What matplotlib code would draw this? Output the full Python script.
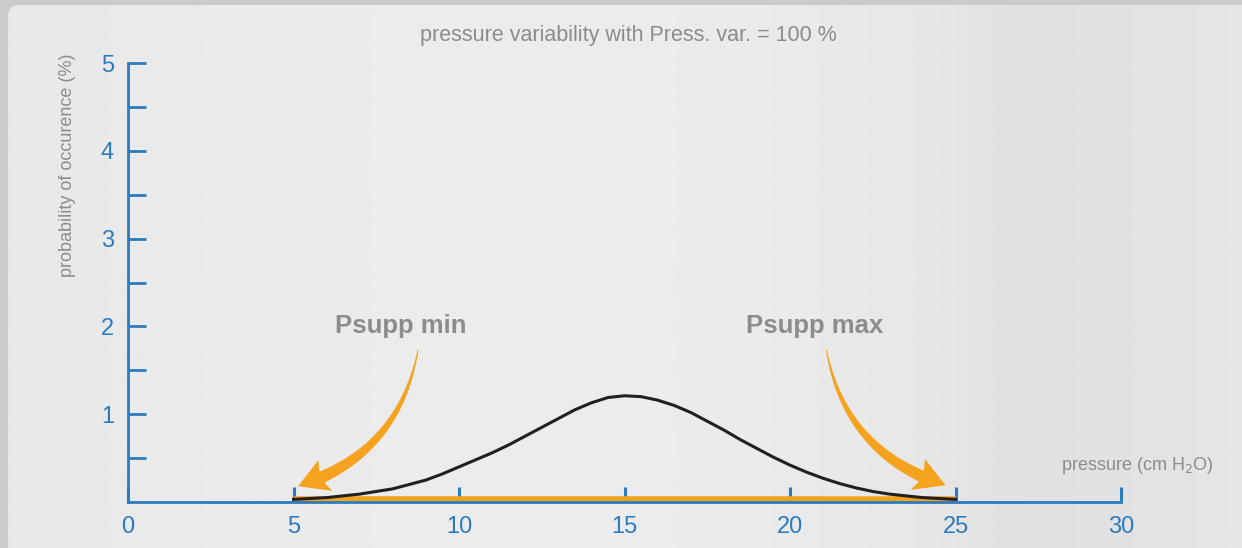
import matplotlib
matplotlib.use("Agg")
import matplotlib.pyplot as plt
import numpy as np
from matplotlib.patches import FancyBboxPatch, Polygon
from matplotlib.transforms import IdentityTransform

plt.rcParams['font.family'] = ['Liberation Sans', 'DejaVu Sans']

# curve
pressure = [5, 5.5, 6, 6.5, 7, 7.5, 8, 8.5, 9, 9.5, 10, 10.5, 11, 11.5, 12, 12.5,
            13, 13.5, 14, 14.5, 15, 15.5, 16, 16.5, 17, 17.5, 18, 18.5, 19, 19.5,
            20, 20.5, 21, 21.5, 22, 22.5, 23, 23.5, 24, 24.5, 25]
probability = [0.03, 0.04, 0.05, 0.07, 0.09, 0.12, 0.15, 0.20, 0.25, 0.32, 0.40,
               0.48, 0.56, 0.65, 0.75, 0.85, 0.95, 1.05, 1.13, 1.19, 1.21, 1.20,
               1.16, 1.10, 1.02, 0.92, 0.82, 0.71, 0.61, 0.51, 0.42, 0.34, 0.27,
               0.21, 0.16, 0.12, 0.09, 0.07, 0.05, 0.04, 0.03]
band_x = [5, 25]
band_y = [0.03, 0.03]
x_ticks = [0, 5, 10, 15, 20, 25, 30]
y_ticks = [1, 2, 3, 4, 5]
y_minor = [0.5, 1.5, 2.5, 3.5, 4.5]

blue = '#2a7bbf'
grey = '#8a8c8e'
orange = '#f5a31e'

fig = plt.figure(figsize=(12.42, 5.48), dpi=100)
fig.patch.set_facecolor('#c9cbcd')

# background panel with a soft gradient
bg = fig.add_axes([0, 0, 1, 1], zorder=-5)
bg.set_xlim(0, 1242)
bg.set_ylim(548, 0)
bg.axis('off')
gx = np.linspace(0, 1, 600)
shade = np.interp(gx, [0, 0.2, 0.45, 0.6, 0.75, 0.82, 0.9, 1.0],
                  [0.91, 0.92, 0.925, 0.92, 0.905, 0.88, 0.885, 0.9])
img = bg.imshow(shade[None, :], cmap='gray', vmin=0, vmax=1, aspect='auto',
                extent=[8, 1242, 548, 5], interpolation='bilinear')
panel = FancyBboxPatch((8, 5), 1260, 560, boxstyle='round,pad=0,rounding_size=12',
                       facecolor='none', edgecolor='none')
bg.add_patch(panel)
img.set_clip_path(panel)

ax = fig.add_axes([128 / 1242, 1 - 502 / 548, (1121 - 128) / 1242, (502 - 63) / 548])
ax.patch.set_alpha(0)
ax.set_xlim(0, 30)
ax.set_ylim(0, 5)

for s in ['top', 'right']:
    ax.spines[s].set_visible(False)
for s in ['left', 'bottom']:
    ax.spines[s].set_color(blue)
    ax.spines[s].set_linewidth(2)

ax.set_xticks(x_ticks)
ax.set_yticks(y_ticks)
ax.set_yticks(y_minor, minor=True)
ax.tick_params(axis='x', direction='in', length=11, width=2.2, color=blue,
               labelcolor=blue, labelsize=17, pad=10)
ax.tick_params(axis='y', which='both', direction='in', length=13, width=2, color=blue,
               labelcolor=blue, labelsize=17, pad=10)

ax.plot(band_x, band_y, color=orange, lw=4, solid_capstyle='butt', zorder=2)
ax.plot(pressure, probability, color='#231f20', lw=2.2, zorder=3)

ax.set_ylabel('probability of occurence (%)', color=grey, fontsize=13)
ax.yaxis.set_label_coords(-0.052, 0.768)
fig.text(628 / 1242, 1 - 35 / 548, 'pressure variability with Press. var. = 100 %',
         color=grey, fontsize=15.5, ha='center', va='center')
fig.text(1214 / 1242, 1 - 466 / 548, r'pressure (cm H$_2$O)', color=grey,
         fontsize=13, ha='right', va='center')

ax.text(8.25, 2.0, 'Psupp min', color=grey, fontsize=18.5, fontweight='bold',
        ha='center', va='center')
ax.text(20.75, 2.0, 'Psupp max', color=grey, fontsize=18.5, fontweight='bold',
        ha='center', va='center')


def tapered_arrow(tail, tip, rad, w0=1.0, w1=12.0, head_len=26, head_w=34):
    p0 = ax.transData.transform(tail)
    p2 = ax.transData.transform(tip)
    d = p2 - p0
    c = (p0 + p2) / 2 + rad * np.array([d[1], -d[0]])
    t = np.linspace(0, 1, 300)[:, None]
    pts = (1 - t) ** 2 * p0 + 2 * (1 - t) * t * c + t ** 2 * p2
    dist = np.hypot(*(pts - p2).T)
    nb = np.argmax(dist < head_len)
    shaft = pts[:nb + 1]
    tang = np.gradient(shaft, axis=0)
    tang /= np.hypot(*tang.T)[:, None]
    norm = np.column_stack([-tang[:, 1], tang[:, 0]])
    w = np.linspace(w0, w1, len(shaft))[:, None] / 2
    left = shaft + norm * w
    right = shaft - norm * w
    base = shaft[-1] - tang[-1] * 4
    n = norm[-1]
    head = [base + n * head_w / 2, p2, base - n * head_w / 2]
    poly = np.vstack([left, head, right[::-1]])
    ax.add_patch(Polygon(poly, closed=True, transform=IdentityTransform(),
                         facecolor=orange, edgecolor='none', zorder=4))


tapered_arrow((8.76, 1.73), (5.14, 0.18), -0.3)
tapered_arrow((21.1, 1.73), (24.7, 0.19), 0.3)

fig.savefig('out.png', dpi=100, facecolor=fig.get_facecolor())
